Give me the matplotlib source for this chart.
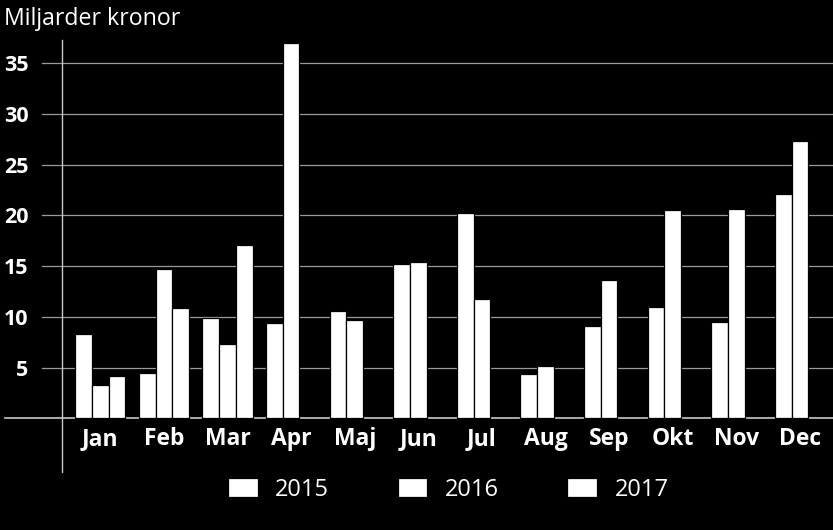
import numpy as np
import matplotlib.pyplot as plt

months = ['Jan', 'Feb', 'Mar', 'Apr', 'Maj', 'Jun', 'Jul', 'Aug', 'Sep', 'Okt', 'Nov', 'Dec']
v2015 = [8.3, 4.5, 9.9, 9.4, 10.6, 15.2, 20.2, 4.4, 9.1, 11.0, 9.5, 22.1]
v2016 = [3.3, 14.7, 7.3, 37.0, 9.7, 15.4, 11.8, 5.2, 13.6, 20.5, 20.6, 27.3]
v2017 = [4.2, 10.9, 17.1, np.nan, np.nan, np.nan, np.nan, np.nan, np.nan, np.nan, np.nan, np.nan]
years = ['2015', '2016', '2017']
yticks = [5, 10, 15, 20, 25, 30, 35]

plt.rcParams['font.family'] = ['Open Sans', 'DejaVu Sans']

W, H = 833, 530
fig = plt.figure(figsize=(W / 100, H / 100), dpi=100, facecolor='black')
ax = fig.add_axes([62 / W, 1 - 472 / H, (W - 62) / W, (472 - 40) / H])
ax.set_facecolor('black')

x = np.arange(len(months))
bw = 0.2625
ax.set_xlim(-0.602, 11.52)
ax.set_ylim(-5.3, 37.3)

# gridlines reaching a little left of the axis line
for t in yticks:
    ax.plot([-20 / 771, 1], [t, t], transform=ax.get_yaxis_transform(),
            color='#9a9a9a', lw=0.9, clip_on=False, zorder=1)
ax.plot([-57 / 771, 1], [0, 0], transform=ax.get_yaxis_transform(),
        color='#c8c8c8', lw=1.2, clip_on=False, zorder=1)

bars = []
for k, vals in enumerate([v2015, v2016, v2017]):
    b = ax.bar(x + (k - 1) * bw, vals, bw, color='white', edgecolor='black',
               linewidth=0.9, zorder=3, label=years[k])
    bars.append(b)

for i, m in enumerate(months):
    ax.text(x[i], -0.85, m, ha='center', va='top', color='white',
            fontsize=16.5, fontweight='bold')

ax.set_yticks(yticks)
ax.set_yticklabels([str(t) for t in yticks], color='white', fontsize=15.5, fontweight='bold')
ax.tick_params(axis='y', length=0, pad=24)
ax.set_xticks([])
for s in ['top', 'right', 'bottom']:
    ax.spines[s].set_visible(False)
ax.spines['left'].set_color('#c8c8c8')
ax.spines['left'].set_linewidth(1.0)

fig.text(4 / W, 1 - 25 / H, 'Miljarder kronor', color='white', fontsize=16.7,
         va='baseline', ha='left')

leg = fig.legend(handles=bars, labels=years, ncol=3, loc='center left',
                 bbox_to_anchor=(228 / W, 1 - 490 / H), frameon=False,
                 fontsize=17, handlelength=1.25, handleheight=0.85,
                 handletextpad=0.75, columnspacing=2.9, borderpad=0, borderaxespad=0)
for t in leg.get_texts():
    t.set_color('white')

fig.savefig('out.png', dpi=100, facecolor='black')
